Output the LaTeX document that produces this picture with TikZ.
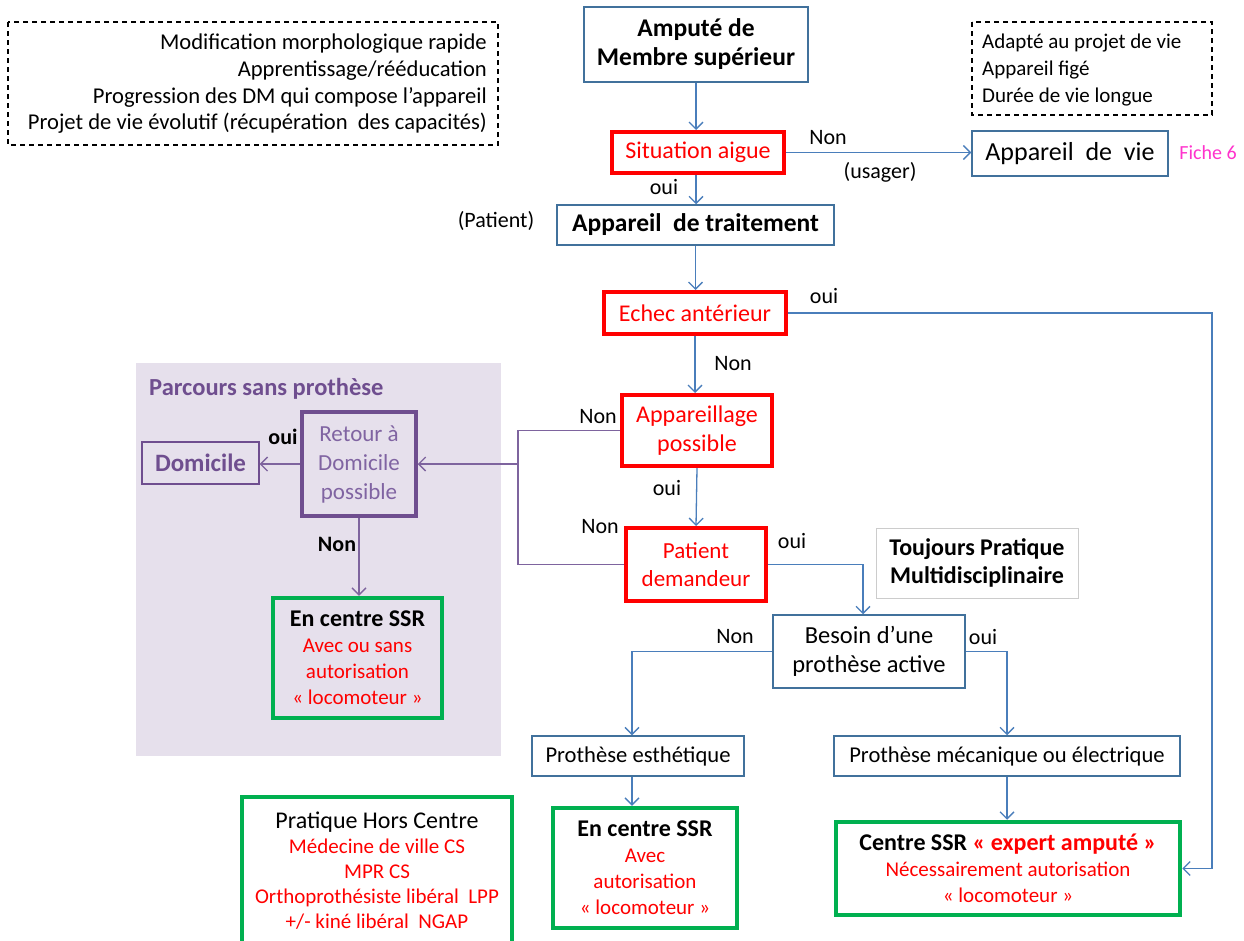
\documentclass[tikz,border=0pt]{standalone}
\usepackage{fontspec}
\setmainfont{Carlito}
\usetikzlibrary{arrows.meta}
\definecolor{cblue}{HTML}{4A7EBB}
\definecolor{cbox}{HTML}{41719C}
\definecolor{cred}{HTML}{FF0000}
\definecolor{cgreen}{HTML}{00B050}
\definecolor{cpurp}{HTML}{6F4E8F}
\definecolor{cpline}{HTML}{7E649E}
\definecolor{cptxt}{HTML}{8064A2}
\definecolor{clav}{HTML}{E6E0EC}
\definecolor{cmag}{HTML}{FF33CC}
\newcommand\myfs{\fontsize{22}{27.5}\selectfont}
\newcommand\bigfs{\fontsize{24}{29.5}\selectfont}
\begin{document}
\begin{tikzpicture}[x=1pt,y=-1pt,
  base/.style={inner sep=0pt, align=center, font=\myfs},
  bluebox/.style={base, draw=cbox, line width=1.5pt},
  redbox/.style={base, draw=cred, line width=4pt, text=cred, font=\bigfs},
  greenbox/.style={base, draw=cgreen, line width=4.5pt, font=\fontsize{21}{26}\selectfont},
  lbl/.style={inner sep=0pt, font=\myfs},
  arr/.style={draw=cblue, line width=1.3pt, -{Straight Barb[length=7pt,width=14pt,line width=1.3pt]}},
  ln/.style={draw=cblue, line width=1.3pt},
  parr/.style={draw=cpline, line width=1.3pt, -{Straight Barb[length=7pt,width=14pt,line width=1.3pt]}},
  pln/.style={draw=cpline, line width=1.3pt},
  dashbox/.style={draw=black, line width=1.2pt, dash pattern=on 5pt off 4pt}
]
\useasboundingbox (0,0) rectangle (1244,940);

% background region
\fill[clav] (136,363) rectangle (501,756);
\node[lbl, anchor=west, font=\fontsize{24.5}{28}\selectfont\bfseries, text=cpurp] (title) at (149,389) {Parcours sans prothèse};

% dashed note boxes
\draw[dashbox] (8,22) rectangle (498,145);
\node[lbl, anchor=east, align=right, font=\fontsize{22.6}{26.7}\selectfont] (noteL) at (487,84) {Modification morphologique rapide\\Apprentissage/rééducation\\Progression des DM qui compose l’appareil\\Projet de vie évolutif (récupération\ \ des capacités)};
\draw[dashbox] (972,22) rectangle (1212,115);
\node[lbl, anchor=west, align=left, font=\fontsize{21}{26.7}\selectfont] (noteR) at (982,70) {Adapté au projet de vie\\Appareil figé\\Durée de vie longue};

% main nodes
\node[bluebox, minimum width=224pt, minimum height=75pt, font=\fontsize{25.5}{29}\selectfont\bfseries] (amp) at (696,44.5) {Amputé de\\Membre supérieur};
\node[redbox, minimum width=172pt, minimum height=41pt] (sit) at (698,152.5) {Situation aigue};
\node[bluebox, minimum width=196pt, minimum height=45pt, font=\fontsize{26}{30}\selectfont] (vie) at (1070,153.5) {Appareil\ \ de\ \ vie};
\node[lbl, text=cmag, font=\fontsize{20}{22}\selectfont] (fiche) at (1208,153) {Fiche 6};
\node[bluebox, minimum width=277pt, minimum height=40pt, font=\fontsize{25.5}{29}\selectfont\bfseries] (trait) at (695.5,225) {Appareil\ \ de traitement};
\node[lbl] (patient) at (496,221) {(Patient)};
\node[redbox, minimum width=182pt, minimum height=42pt] (echec) at (695,313) {Echec antérieur};
\node[redbox, minimum width=150pt, minimum height=71pt] (app) at (697,430.5) {Appareillage\\possible};
\node[redbox, minimum width=140pt, minimum height=73pt, font=\fontsize{23}{28}\selectfont] (pat) at (696,564.5) {Patient\\demandeur};
\node[base, draw=black!20, line width=1pt, minimum width=202pt, minimum height=70pt, font=\fontsize{24}{28}\selectfont\bfseries] (tjr) at (977,563) {Toujours Pratique\\Multidisciplinaire};
\node[bluebox, minimum width=192pt, minimum height=73pt, font=\fontsize{24.5}{29}\selectfont] (besoin) at (869,651.5) {Besoin d’une\\prothèse active};
\node[bluebox, minimum width=212pt, minimum height=40pt, font=\fontsize{22.6}{27}\selectfont] (esth) at (638,756) {Prothèse esthétique};
\node[bluebox, minimum width=346pt, minimum height=40pt, font=\fontsize{22.6}{27}\selectfont] (meca) at (1007,756) {Prothèse mécanique ou électrique};
\node[greenbox, minimum width=184pt, minimum height=120pt] (ssr2) at (645,868) {{\fontsize{24}{26}\selectfont\bfseries En centre SSR}\\\textcolor{cred}{Avec}\\\textcolor{cred}{autorisation}\\\textcolor{cred}{« locomoteur »}};
\node[greenbox, minimum width=344pt, minimum height=93pt] (expert) at (1008,868.5) {{\fontsize{24}{26}\selectfont\bfseries Centre SSR \textcolor{cred}{« expert amputé »}}\\\textcolor{cred}{Nécessairement autorisation}\\\textcolor{cred}{« locomoteur »}};
\node[greenbox, minimum width=270pt, minimum height=148pt, font=\fontsize{21}{25}\selectfont] (hors) at (377,871) {{\fontsize{24}{25}\selectfont Pratique Hors Centre}\\\textcolor{cred}{Médecine de ville CS}\\\textcolor{cred}{MPR CS}\\\textcolor{cred}{Orthoprothésiste libéral\ \ LPP}\\\textcolor{cred}{+/- kiné libéral\ \ NGAP}};

% purple region nodes
\node[base, draw=cpurp, line width=3.5pt, minimum width=114pt, minimum height=104pt, text=cptxt, font=\fontsize{23}{29}\selectfont] (retour) at (359,464) {Retour à\\Domicile\\possible};
\node[base, draw=cpurp, line width=1.3pt, minimum width=117pt, minimum height=42pt, text=cpurp, font=\fontsize{25}{28}\selectfont\bfseries] (dom) at (200.5,463) {Domicile};
\node[greenbox, minimum width=169pt, minimum height=120pt] (ssr1) at (357.5,658) {{\fontsize{24}{26}\selectfont\bfseries En centre SSR}\\\textcolor{cred}{Avec ou sans}\\\textcolor{cred}{autorisation}\\\textcolor{cred}{« locomoteur »}};

% labels
\node[lbl] (l1) at (828,138) {Non};
\node[lbl] (l2) at (880,172) {(usager)};
\node[lbl] (l3) at (664,187) {oui};
\node[lbl] (l4) at (824,296) {oui};
\node[lbl] (l5) at (733,364) {Non};
\node[lbl] (l6) at (598,417) {Non};
\node[lbl, font=\myfs\bfseries] (l7) at (283,437) {oui};
\node[lbl, font=\myfs\bfseries] (l8) at (337,544) {Non};
\node[lbl] (l9) at (667,488) {oui};
\node[lbl] (l10) at (600,527) {Non};
\node[lbl] (l11) at (792,541) {oui};
\node[lbl] (l12) at (735,637) {Non};
\node[lbl] (l13) at (983,637) {oui};

% connectors
\coordinate (rr) at (1212,0);
\coordinate (jx) at (518,0);
\draw[arr] (amp.south) -- (amp.south |- sit.north);
\draw[arr] (sit.east) -- (sit.east -| vie.west);
\draw[arr] (amp.south |- sit.south) -- (amp.south |- trait.north);
\draw[arr] (trait.south) -- (trait.south |- echec.north);
\draw[arr] (echec.east) -| (rr |- expert.east) -- (expert.east);
\draw[arr] (echec.south) -- (echec.south |- app.north);
\draw[arr] (app.south) -- (pat.north);
\draw[pln] (app.west) -| (jx |- pat.west) -- (pat.west);
\draw[parr] (jx |- retour.east) -- (retour.east);
\draw[parr] (retour.west) -- (retour.west -| dom.east);
\draw[parr] (retour.south) -- (retour.south |- ssr1.north);
\draw[arr] (pat.east) -| (863,0 |- besoin.north);
\draw[arr] (besoin.west) -| (632,0 |- esth.north);
\draw[arr] (besoin.east) -| (meca.north);
\draw[arr] (632,0 |- esth.south) -- (632,0 |- ssr2.north);
\draw[arr] (meca.south) -- (meca.south |- expert.north);
\end{tikzpicture}
\end{document}
